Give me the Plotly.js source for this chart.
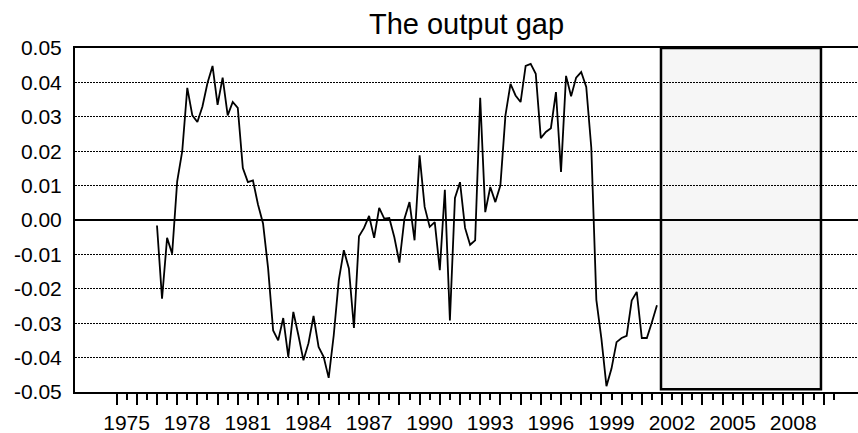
<!DOCTYPE html>
<html>
<head>
<meta charset="utf-8">
<script src="https://cdn.plot.ly/plotly-3.0.1.min.js"></script>
<style>html,body{margin:0;padding:0;background:#fff;}#chart{width:858px;height:433px;}</style>
</head>
<body>
<div id="chart"></div>
<script>
// Quarterly output gap, 1977Q1 .. 2001Q4
const startYear = 1977;
const gapValues = [
 -0.0016,-0.0229,-0.0052,-0.0098, 0.0112, 0.0200, 0.0384, 0.0304,
  0.0285, 0.0330, 0.0398, 0.0448, 0.0335, 0.0414, 0.0304, 0.0343,
  0.0326, 0.0151, 0.0110, 0.0115, 0.0045,-0.0010,-0.0140,-0.0321,
 -0.0350,-0.0285,-0.0398,-0.0267,-0.0335,-0.0408,-0.0358,-0.0279,
 -0.0369,-0.0398,-0.0459,-0.0335,-0.0175,-0.0088,-0.0141,-0.0314,
 -0.0047,-0.0023, 0.0012,-0.0052, 0.0035, 0.0004, 0.0006,-0.0050,
 -0.0124, 0.0004, 0.0052,-0.0059, 0.0188, 0.0038,-0.0020,-0.0006,
 -0.0146, 0.0088,-0.0292, 0.0064, 0.0110,-0.0023,-0.0072,-0.0059,
  0.0355, 0.0023, 0.0096, 0.0052, 0.0101, 0.0304, 0.0396, 0.0362,
  0.0343, 0.0448, 0.0454, 0.0425, 0.0238, 0.0256, 0.0267, 0.0372,
  0.0140, 0.0419, 0.0360, 0.0414, 0.0430, 0.0387, 0.0210,-0.0232,
 -0.0345,-0.0483,-0.0432,-0.0355,-0.0343,-0.0337,-0.0234,-0.0209,
 -0.0343,-0.0343,-0.0297,-0.0248
];
const quarterDates = gapValues.map((v, i) => startYear + 0.25 * i);
const labelYears = [1975,1978,1981,1984,1987,1990,1993,1996,1999,2002,2005,2008];
const yearTicks = [];
for (let y = 1975; y <= 2010; y++) yearTicks.push(y);
const halfYearTicks = yearTicks.map(y => y + 0.5);
const yTicks = [-0.05,-0.04,-0.03,-0.02,-0.01,0,0.01,0.02,0.03,0.04,0.05];
const forecastStart = 2001.95;
const forecastEnd = 2009.87;

const font = 'Liberation Sans, Arial, sans-serif';

const trace = {
  x: quarterDates, y: gapValues, type: 'scatter', mode: 'lines',
  line: {color: '#000', width: 1.8}, hoverinfo: 'skip'
};

const layout = {
  width: 858, height: 433,
  margin: {l: 75, r: 0, t: 47.5, b: 41.3, pad: 0},
  paper_bgcolor: '#fff', plot_bgcolor: '#fff',
  showlegend: false,
  font: {family: font, size: 21, color: '#000'},
  title: {text: 'The output gap', font: {family: font, size: 29, color: '#000'},
          xref: 'paper', x: 0.5, xanchor: 'center', yref: 'container', y: 1 - 24/433, yanchor: 'middle'},
  xaxis: {
    range: [1972.941, 2011.703], showgrid: false, zeroline: false,
    showline: true, linecolor: '#000', linewidth: 2, mirror: true,
    tickmode: 'array', tickvals: yearTicks,
    ticktext: yearTicks.map(y => labelYears.includes(y) ? String(y) : ''),
    ticks: 'outside', ticklen: 11, tickwidth: 2, tickcolor: '#000',
    ticklabelshift: 10,
    minor: {tickmode: 'array', tickvals: halfYearTicks, ticks: 'outside', ticklen: 6, tickwidth: 2, tickcolor: '#000', showgrid: false},
    tickfont: {family: font, size: 21, color: '#000'},
    fixedrange: true
  },
  yaxis: {
    range: [-0.05, 0.05], tickmode: 'array', tickvals: yTicks,
    ticktext: yTicks.map(v => v.toFixed(2)),
    showgrid: true, gridcolor: '#000', gridwidth: 1.2, griddash: '2px,1px',
    zeroline: true, zerolinecolor: '#000', zerolinewidth: 2,
    showline: true, linecolor: '#000', linewidth: 2, mirror: false,
    ticks: '', ticklabelstandoff: 7,
    tickfont: {family: font, size: 21, color: '#000'},
    fixedrange: true
  },
  shapes: [
    {type: 'rect', xref: 'x', yref: 'y', x0: forecastStart, x1: forecastEnd, y0: -0.0492, y1: 0.05,
     fillcolor: '#f6f6f6', line: {width: 0}, layer: 'below'},
    {type: 'rect', xref: 'x', yref: 'y', x0: forecastStart, x1: forecastEnd, y0: -0.0492, y1: 0.05,
     fillcolor: 'rgba(0,0,0,0)', line: {color: '#000', width: 2.5}, layer: 'above'}
  ]
};

Plotly.newPlot('chart', [trace], layout, {displayModeBar: false, staticPlot: true});
</script>
</body>
</html>
